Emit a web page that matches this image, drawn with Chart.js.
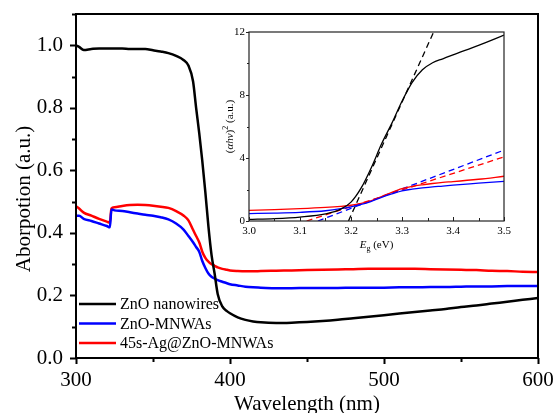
<!DOCTYPE html>
<html>
<head>
<meta charset="utf-8">
<script src="https://cdn.jsdelivr.net/npm/chart.js@4.4.1/dist/chart.umd.min.js"></script>
<style>
	html, body { margin: 0; padding: 0; background: #fff; }
	#wrap { position: relative; width: 556px; height: 413px; }
	#main { position: absolute; left: 0; top: 0; }
	#inset { position: absolute; left: 200px; top: 18px; }
</style>
</head>
<body>
<div id="wrap">
	<canvas id="main" width="556" height="413"></canvas>
	<canvas id="inset" width="320" height="240"></canvas>
</div>
<script>
// ---- main plot data ----
const wavelength = [ 300, 302, 305, 310, 315, 320, 322, 323, 325, 330, 335, 340, 345, 350, 355, 360, 365, 370, 373, 376, 378, 380, 382, 384, 386, 388, 390, 392, 395, 398, 400, 405, 410, 415, 420, 430, 440, 450, 460, 470, 480, 490, 500, 510, 520, 530, 540, 550, 560, 570, 580, 590, 600 ];
const zno = [ 1.0, 0.995, 0.985, 0.988, 0.99, 0.99, 0.99, 0.99, 0.99, 0.99, 0.988, 0.988, 0.988, 0.984, 0.98, 0.975, 0.966, 0.952, 0.935, 0.885, 0.8, 0.72, 0.63, 0.53, 0.42, 0.33, 0.27, 0.205, 0.165, 0.15, 0.143, 0.13, 0.122, 0.117, 0.114, 0.112, 0.113, 0.115, 0.118, 0.122, 0.127, 0.132, 0.137, 0.142, 0.147, 0.152, 0.157, 0.163, 0.168, 0.174, 0.18, 0.186, 0.192 ];
const mnwa = [ 0.455, 0.455, 0.445, 0.438, 0.43, 0.422, 0.418, 0.475, 0.472, 0.47, 0.466, 0.462, 0.458, 0.455, 0.45, 0.443, 0.43, 0.41, 0.39, 0.37, 0.355, 0.34, 0.31, 0.288, 0.27, 0.26, 0.254, 0.249, 0.244, 0.239, 0.236, 0.232, 0.228, 0.226, 0.225, 0.223, 0.223, 0.224, 0.224, 0.224, 0.225, 0.225, 0.225, 0.226, 0.226, 0.227, 0.227, 0.228, 0.229, 0.229, 0.23, 0.23, 0.23 ];
const agMnwa = [ 0.485, 0.478, 0.465, 0.455, 0.445, 0.436, 0.433, 0.478, 0.482, 0.486, 0.489, 0.49, 0.489, 0.487, 0.484, 0.48, 0.47, 0.455, 0.44, 0.41, 0.39, 0.37, 0.34, 0.32, 0.308, 0.3, 0.295, 0.29, 0.285, 0.282, 0.28, 0.278, 0.277, 0.277, 0.278, 0.279, 0.28, 0.281, 0.282, 0.283, 0.284, 0.285, 0.285, 0.285, 0.285, 0.284, 0.283, 0.282, 0.281, 0.279, 0.278, 0.276, 0.275 ];
const seriesNames = [ 'ZnO nanowires', 'ZnO-MNWAs', '45s-Ag@ZnO-MNWAs' ];
const seriesColors = [ '#000000', '#0000ff', '#ff0000' ];
const yTitle = 'Aborpotion (a.u.)';

// ---- inset data ----
const energy = [ 3.0, 3.05, 3.1, 3.15, 3.18, 3.2, 3.22, 3.24, 3.26, 3.28, 3.3, 3.32, 3.34, 3.36, 3.38, 3.4, 3.45, 3.5 ];
const taucZno = [ 0.1, 0.15, 0.25, 0.45, 0.75, 1.2, 2.1, 3.4, 4.9, 6.2, 7.6, 8.8, 9.6, 10.05, 10.3, 10.55, 11.15, 11.8 ];
const taucMnwa = [ 0.47, 0.5, 0.55, 0.65, 0.78, 0.9, 1.05, 1.25, 1.5, 1.72, 1.92, 2.02, 2.1, 2.17, 2.22, 2.28, 2.4, 2.52 ];
const taucAg = [ 0.68, 0.72, 0.78, 0.86, 0.93, 1.0, 1.12, 1.3, 1.55, 1.82, 2.05, 2.2, 2.3, 2.38, 2.45, 2.5, 2.65, 2.84 ];
const fitZnoE = [ 3.195, 3.362 ];
const fitZnoY = [ 0, 12 ];
const fitMnwaE = [ 3.135, 3.5 ];
const fitMnwaY = [ 0, 4.5 ];
const fitAgE = [ 3.113, 3.5 ];
const fitAgY = [ 0, 4.07 ];

const SERIF = '"Liberation Serif", "DejaVu Serif", serif';

const pts = ( xs, ys ) => xs.map( ( x, i ) => ( { x, y: ys[ i ] } ) );

// fixed axis box sizes, no extra room for overhanging labels
const fixX = ( h ) => ( s ) => { s.height = h; s.paddingLeft = 0; s.paddingRight = 0; };
const fixY = ( w ) => ( s ) => { s.width = w; s.paddingTop = 0; s.paddingBottom = 0; };

// draws frame + inward/outward ticks (major/minor) from the scale ticks
function frameTicks( opts ) {
	return {
		id: 'frameTicks',
		afterDraw( chart ) {
			const { ctx, chartArea: a, scales } = chart;
			ctx.save();
			ctx.strokeStyle = opts.color;
			ctx.lineWidth = opts.tickWidth;
			ctx.beginPath();
			scales.x.ticks.forEach( ( t ) => {
				const px = Math.round( scales.x.getPixelForValue( t.value ) ) + 0.5;
				const len = opts.isMajorX( t.value ) ? opts.xMajor : opts.xMinor;
				ctx.moveTo( px, a.bottom );
				ctx.lineTo( px, a.bottom + len * opts.xDir );
			} );
			scales.y.ticks.forEach( ( t ) => {
				const py = Math.round( scales.y.getPixelForValue( t.value ) ) + 0.5;
				const len = opts.isMajorY( t.value ) ? opts.yMajor : opts.yMinor;
				ctx.moveTo( a.left, py );
				ctx.lineTo( a.left - len * opts.yDir, py );
			} );
			ctx.stroke();
			ctx.lineWidth = opts.frameWidth;
			ctx.strokeRect( a.left, a.top, a.right - a.left, a.bottom - a.top );
			ctx.restore();
		}
	};
}

const legendPlugin = {
	id: 'insideLegend',
	afterDraw( chart ) {
		const { ctx } = chart;
		ctx.save();
		ctx.font = '16px ' + SERIF;
		ctx.textBaseline = 'middle';
		ctx.fillStyle = '#000';
		chart.data.datasets.forEach( ( ds, i ) => {
			const y = 304 + i * 19.5;
			ctx.strokeStyle = ds.borderColor;
			ctx.lineWidth = 2.5;
			ctx.beginPath();
			ctx.moveTo( 79, y );
			ctx.lineTo( 116, y );
			ctx.stroke();
			ctx.fillText( ds.label, 120, y + 1 );
		} );

		// y axis title, sits a little below the plot centre in the original
		ctx.font = '21px ' + SERIF;
		ctx.textAlign = 'center';
		ctx.translate( 24, 199 );
		ctx.rotate( -Math.PI / 2 );
		ctx.fillText( yTitle, 0, 0 );
		ctx.restore();
	}
};

const mainChart = new Chart( document.getElementById( 'main' ), {
	type: 'line',
	data: {
		datasets: [ zno, mnwa, agMnwa ].map( ( ys, i ) => ( {
			label: seriesNames[ i ],
			data: pts( wavelength, ys ),
			borderColor: seriesColors[ i ],
			borderWidth: 2.5,
			pointRadius: 0,
			cubicInterpolationMode: 'monotone',
			fill: false
		} ) )
	},
	options: {
		responsive: false,
		animation: false,
		layout: { padding: { top: 14, right: 18, left: 0, bottom: 0 } },
		plugins: { legend: { display: false }, tooltip: { enabled: false } },
		scales: {
			x: {
				type: 'linear',
				min: 300,
				max: 600,
				grid: { display: false, drawTicks: false },
				border: { display: false },
				ticks: {
					stepSize: 50,
					padding: 10,
					color: '#000',
					font: { family: SERIF, size: 21 },
					maxRotation: 0,
					callback: ( v ) => ( v % 100 === 0 ? v : '' )
				},
				title: {
					display: true,
					text: 'Wavelength (nm)',
					color: '#000',
					font: { family: SERIF, size: 21, lineHeight: 1 },
					padding: { top: 0, bottom: -2 }
				},
				afterFit: fixX( 55 )
			},
			y: {
				min: 0,
				max: 1.1,
				grid: { display: false, drawTicks: false },
				border: { display: false },
				ticks: {
					stepSize: 0.1,
					padding: 13,
					color: '#000',
					font: { family: SERIF, size: 21 },
					callback: ( v ) => ( Math.round( v * 10 ) % 2 === 0 && v < 1.05 ? v.toFixed( 1 ) : '' )
				},
				afterFit: fixY( 76 )
			}
		}
	},
	plugins: [
		frameTicks( {
			color: '#000', tickWidth: 2, frameWidth: 2,
			xDir: 1, yDir: 1, xMajor: 6, xMinor: 4, yMajor: 6, yMinor: 4,
			isMajorX: ( v ) => v % 100 === 0,
			isMajorY: ( v ) => Math.round( v * 10 ) % 2 === 0
		} ),
		legendPlugin
	]
} );

// inset axis titles with italic / sub- and superscript parts
const insetTitles = {
	id: 'insetTitles',
	afterDraw( chart ) {
		const { ctx, chartArea: a } = chart;
		const norm = '11px ' + SERIF;
		const ital = 'italic 11px ' + SERIF;
		const small = '8px ' + SERIF;
		ctx.save();
		ctx.fillStyle = '#000';
		ctx.textBaseline = 'alphabetic';

		// x title: E_g (eV)
		const xParts = [ [ 'E', ital, 0 ], [ 'g', small, 3 ], [ ' (eV)', norm, 0 ] ];
		let w = 0;
		xParts.forEach( ( p ) => { ctx.font = p[ 1 ]; w += ctx.measureText( p[ 0 ] ).width; } );
		let x = ( a.left + a.right ) / 2 - w / 2;
		const yBase = a.bottom + 27;
		xParts.forEach( ( p ) => {
			ctx.font = p[ 1 ];
			ctx.fillText( p[ 0 ], x, yBase + p[ 2 ] );
			x += ctx.measureText( p[ 0 ] ).width;
		} );

		// y title: (αhν)^2 (a.u.)
		const yParts = [ [ '(', norm, 0 ], [ 'αhν', ital, 0 ], [ ')', norm, 0 ], [ '2', small, -5 ], [ ' (a.u.)', norm, 0 ] ];
		w = 0;
		yParts.forEach( ( p ) => { ctx.font = p[ 1 ]; w += ctx.measureText( p[ 0 ] ).width; } );
		ctx.translate( a.left - 16, ( a.top + a.bottom ) / 2 );
		ctx.rotate( -Math.PI / 2 );
		x = -w / 2;
		yParts.forEach( ( p ) => {
			ctx.font = p[ 1 ];
			ctx.fillText( p[ 0 ], x, p[ 2 ] );
			x += ctx.measureText( p[ 0 ] ).width;
		} );
		ctx.restore();
	}
};

const insetChart = new Chart( document.getElementById( 'inset' ), {
	type: 'line',
	data: {
		datasets: [
			{ data: pts( energy, taucZno ), borderColor: '#000', borderWidth: 1.3, pointRadius: 0, cubicInterpolationMode: 'monotone' },
			{ data: pts( energy, taucMnwa ), borderColor: '#0000ff', borderWidth: 1.3, pointRadius: 0, cubicInterpolationMode: 'monotone' },
			{ data: pts( energy, taucAg ), borderColor: '#ff0000', borderWidth: 1.3, pointRadius: 0, cubicInterpolationMode: 'monotone' },
			{ data: pts( fitZnoE, fitZnoY ), borderColor: '#000', borderWidth: 1.3, borderDash: [ 6, 4 ], pointRadius: 0 },
			{ data: pts( fitMnwaE, fitMnwaY ), borderColor: '#0000ff', borderWidth: 1.3, borderDash: [ 6, 4 ], pointRadius: 0 },
			{ data: pts( fitAgE, fitAgY ), borderColor: '#ff0000', borderWidth: 1.3, borderDash: [ 6, 4 ], pointRadius: 0 }
		]
	},
	options: {
		responsive: false,
		animation: false,
		layout: { padding: { top: 14, right: 16, left: 0, bottom: 0 } },
		plugins: { legend: { display: false }, tooltip: { enabled: false } },
		scales: {
			x: {
				type: 'linear',
				min: 3.0,
				max: 3.5,
				grid: { display: false, drawTicks: false },
				border: { display: false },
				ticks: {
					stepSize: 0.05,
					padding: 4,
					color: '#000',
					font: { family: SERIF, size: 11 },
					maxRotation: 0,
					autoSkip: false,
					callback: ( v ) => ( Math.round( v * 100 ) % 10 === 0 ? v.toFixed( 1 ) : '' )
				},
				afterFit: fixX( 37 )
			},
			y: {
				min: 0,
				max: 12,
				grid: { display: false, drawTicks: false },
				border: { display: false },
				ticks: {
					stepSize: 2,
					padding: 4,
					color: '#000',
					font: { family: SERIF, size: 11 },
					callback: ( v ) => ( v % 4 === 0 ? v : '' )
				},
				afterFit: fixY( 49 )
			}
		}
	},
	plugins: [
		frameTicks( {
			color: '#222', tickWidth: 1, frameWidth: 1.2,
			xDir: -1, yDir: 1, xMajor: 4, xMinor: 3, yMajor: 3, yMinor: 2,
			isMajorX: ( v ) => Math.round( v * 100 ) % 10 === 0,
			isMajorY: ( v ) => v % 4 === 0
		} ),
		insetTitles
	]
} );
</script>
</body>
</html>
